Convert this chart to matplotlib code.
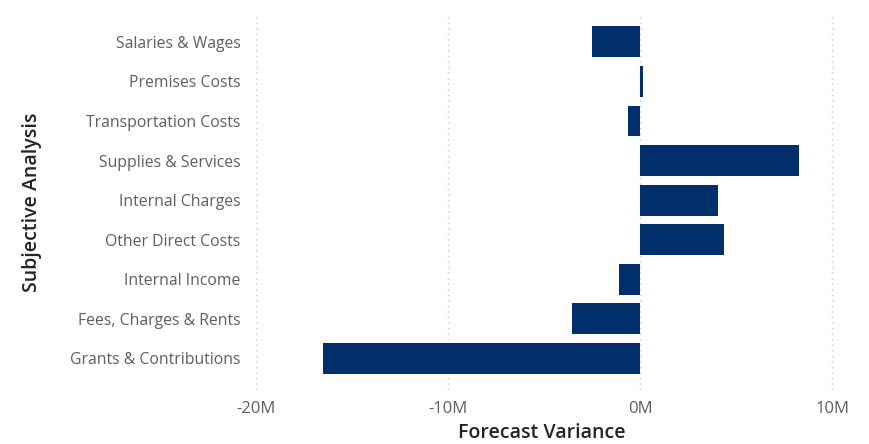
import matplotlib
matplotlib.use('Agg')

import numpy as np
import matplotlib.pyplot as plt

categories = ['Salaries & Wages', 'Premises Costs', 'Transportation Costs',
              'Supplies & Services', 'Internal Charges', 'Other Direct Costs',
              'Internal Income', 'Fees, Charges & Rents', 'Grants & Contributions']
variance_m = [-2.52, 0.12, -0.62, 8.25, 4.03, 4.34, -1.13, -3.56, -16.49]
x_ticks = [-20, -10, 0, 10]
x_ticklabels = ['-20M', '-10M', '0M', '10M']

plt.rcParams['font.family'] = ['Open Sans', 'DejaVu Sans']

fig = plt.figure(figsize=(8.7, 4.44), dpi=100)
ax = fig.add_axes([256/870, 1 - 390/444, (840-256)/870, (390-15)/444])

y = np.arange(len(categories))
ax.barh(y, variance_m, height=0.78, color='#012F6B', zorder=3)

ax.set_xlim(-20, 10.4)
ax.set_ylim(len(categories) - 0.2, -0.68)
ax.set_xticks(x_ticks)
ax.set_xticklabels(x_ticklabels)
ax.set_yticks(y)
ax.set_yticklabels(categories)
ax.grid(axis='x', linestyle=(0, (1, 3)), color='#C8C6C4', linewidth=1, zorder=0)
ax.tick_params(axis='both', length=0, colors='#605E5C')
ax.tick_params(axis='y', labelsize=11.3, pad=11)
ax.tick_params(axis='x', labelsize=12, pad=8)
for s in ax.spines.values():
    s.set_visible(False)

ax.set_xlabel('Forecast Variance', fontsize=14, color='#252423', fontweight='semibold')
ax.set_ylabel('Subjective Analysis', fontsize=14, color='#252423', fontweight='semibold')
ax.xaxis.set_label_coords(0.49, -0.088)
ax.yaxis.set_label_coords(-0.366, 0.5)

fig.savefig('out.png', dpi=100)
